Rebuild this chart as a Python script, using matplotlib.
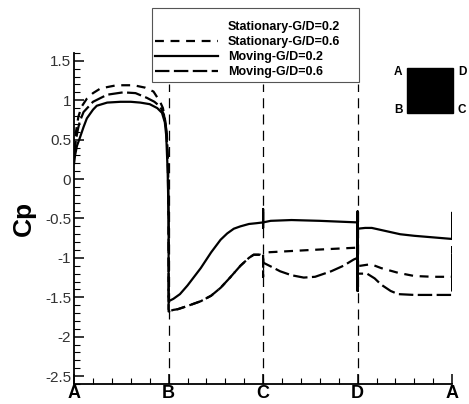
import matplotlib
matplotlib.use('Agg')
import matplotlib.pyplot as plt
from matplotlib.lines import Line2D
from matplotlib.patches import Rectangle
from matplotlib.ticker import MultipleLocator

plt.rc('font', family='Liberation Sans', size=11)

# face positions: A=0, B=1, C=2, D=3, A=4
face_ticks = [0, 1, 2, 3, 4]
face_labels = ['A', 'B', 'C', 'D', 'A']

# Moving-G/D=0.2 (solid)
mov02_x = [0, 0.01, 0.03, 0.06, 0.1, 0.135, 0.2, 0.24, 0.35, 0.49, 0.6, 0.7, 0.8, 0.88, 0.93, 0.96, 0.975, 0.99, 1.0,
           1.0, 1.05, 1.12, 1.2, 1.34, 1.45, 1.55, 1.62, 1.69, 1.76, 1.85, 1.93, 2.0,
           2.0, 2.0, 2.0, 2.08, 2.3, 2.6, 2.8, 3.0,
           3.0, 3.0, 3.0, 3.08, 3.15, 3.3, 3.45, 3.6, 3.8, 4.0, 4.0]
mov02_y = [0.2, 0.3, 0.42, 0.52, 0.66, 0.77, 0.88, 0.93, 0.97, 0.98, 0.98, 0.97, 0.95, 0.9, 0.84, 0.72, 0.55, 0.1, -0.5,
           -1.55, -1.52, -1.46, -1.35, -1.13, -0.93, -0.77, -0.69, -0.63, -0.6, -0.57, -0.56, -0.55,
           -0.38, -0.62, -0.55, -0.53, -0.52, -0.53, -0.54, -0.55,
           -1.42, -0.41, -0.63, -0.62, -0.62, -0.66, -0.7, -0.72, -0.74, -0.76, -0.43]

# Stationary-G/D=0.6 (short dash)
st06_x = [0, 0.02, 0.045, 0.08, 0.135, 0.2, 0.28, 0.45, 0.63, 0.75, 0.84, 0.91, 0.94, 0.97, 0.99, 1.0,
          1.0, 1.05, 1.1, 1.2, 1.34, 1.45, 1.55, 1.65, 1.76, 1.85, 1.9, 1.97, 2.0,
          2.0, 2.0, 2.04, 2.5, 3.0,
          3.0, 3.03, 3.14, 3.25, 3.43, 3.6, 3.8, 4.0, 4.0]
st06_y = [0.35, 0.6, 0.79, 0.92, 1.02, 1.09, 1.15, 1.19, 1.19, 1.16, 1.11, 0.98, 0.9, 0.7, 0.3, -0.6,
          -1.68, -1.66, -1.65, -1.61, -1.55, -1.48, -1.38, -1.25, -1.1, -1.0, -0.96, -0.96, -0.98,
          -1.24, -0.95, -0.93, -0.9, -0.87,
          -1.1, -1.1, -1.08, -1.13, -1.19, -1.23, -1.24, -1.24, -0.85]

# Moving-G/D=0.6 (long dash)
mov06_x = [0, 0.02, 0.04, 0.06, 0.1, 0.2, 0.35, 0.52, 0.65, 0.77, 0.85, 0.91, 0.95, 0.98, 0.995, 1.0,
           1.0, 1.05, 1.1, 1.2, 1.34, 1.45, 1.55, 1.65, 1.76, 1.85, 1.9, 1.97, 2.0,
           2.0, 2.1, 2.18, 2.3, 2.43, 2.55, 2.72, 2.85, 2.96, 3.0,
           3.0, 3.1, 3.18, 3.25, 3.35, 3.43, 3.6, 3.8, 4.0, 4.0]
mov06_y = [0.3, 0.5, 0.63, 0.73, 0.85, 0.98, 1.07, 1.1, 1.09, 1.03, 0.98, 0.92, 0.82, 0.6, 0.2, -0.6,
           -1.68, -1.66, -1.65, -1.61, -1.55, -1.48, -1.38, -1.25, -1.1, -1.0, -0.96, -0.96, -0.98,
           -1.06, -1.12, -1.17, -1.22, -1.25, -1.24, -1.17, -1.1, -1.02, -1.0,
           -1.2, -1.2, -1.26, -1.34, -1.42, -1.46, -1.47, -1.47, -1.47, -0.85]

short_dash = (4, 3)
long_dash = (6.5, 2)

fig = plt.figure(figsize=(4.69, 4.04), dpi=100)
ax = fig.add_axes([0.158, 0.0495, 0.806, 0.8195])

for xv in face_ticks[1:4]:
    ax.plot([xv, xv], [-2.6, 1.2], color='black', lw=0.9, dashes=(8, 5))

ax.plot(st06_x, st06_y, color='black', lw=1.6, dashes=short_dash)
ax.plot(mov02_x, mov02_y, color='black', lw=1.6)
ax.plot(mov06_x, mov06_y, color='black', lw=1.6, dashes=long_dash)

ax.set_xlim(0, 4)
ax.set_ylim(-2.6, 1.6)
ax.spines['top'].set_visible(False)
ax.spines['right'].set_visible(False)
ax.spines['left'].set_linewidth(1.3)
ax.spines['bottom'].set_linewidth(1.3)
ax.set_xticks(face_ticks)
ax.set_xticklabels(face_labels, fontsize=13, fontweight='bold')
ax.xaxis.set_minor_locator(MultipleLocator(0.2))
ax.yaxis.set_minor_locator(MultipleLocator(0.1))
ax.set_yticks([-2.5, -2, -1.5, -1, -0.5, 0, 0.5, 1, 1.5])
ax.set_yticklabels(['-2.5', '-2', '-1.5', '-1', '-0.5', '0', '0.5', '1', '1.5'], color='#333333')
ax.tick_params(direction='in', which='major', length=7, width=1.1, pad=2)
ax.tick_params(direction='in', which='minor', length=4, width=0.8)
ax.tick_params(axis='x', pad=1)
ax.set_ylabel('Cp', fontsize=19, fontweight='bold', labelpad=0)
ax.yaxis.set_label_coords(-0.1, 0.5)

handles = [Line2D([], [], linestyle='none'),
           Line2D([], [], color='black', lw=1.6, dashes=short_dash),
           Line2D([], [], color='black', lw=1.6),
           Line2D([], [], color='black', lw=1.6, dashes=long_dash)]
labels = ['Stationary-G/D=0.2', 'Stationary-G/D=0.6', 'Moving-G/D=0.2', 'Moving-G/D=0.6']
leg = fig.legend(handles, labels, loc='upper left', bbox_to_anchor=(155 / 469, 1 - 21 / 404),
                 prop={'family': 'Liberation Sans', 'weight': 'bold', 'size': 9},
                 frameon=False, borderaxespad=0, borderpad=0, handlelength=5.0,
                 handletextpad=0.85, labelspacing=0.25)

# legend box drawn separately (more room above the rows than below)
fig.patches.append(Rectangle((152 / 469, 1 - 82 / 404), 207 / 469, 74 / 404,
                             transform=fig.transFigure, facecolor='none',
                             edgecolor='#555555', linewidth=0.8))

# inset square with corner labels
fig.patches.append(Rectangle((407 / 469, 1 - 113 / 404), 46 / 469, 45 / 404,
                             transform=fig.transFigure, facecolor='black', edgecolor='black'))
for lab, px, py in [('A', 398, 72), ('D', 462, 72), ('B', 398, 110), ('C', 462, 110)]:
    fig.text(px / 469, 1 - py / 404, lab, fontsize=8.5, fontweight='bold',
             ha='center', va='center')

fig.savefig('out.png', dpi=100)
